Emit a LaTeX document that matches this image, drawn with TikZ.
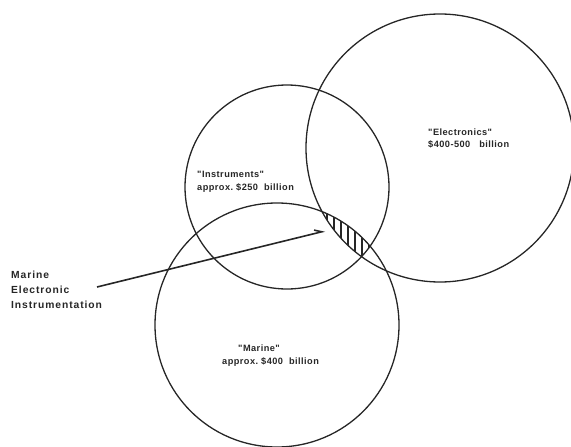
\documentclass[tikz,border=0pt]{standalone}
\usepackage{fontspec}
\setmainfont{Liberation Sans}
\newfontfamily\labfont[LetterSpace=9]{Liberation Sans}
\newfontfamily\txtfont[LetterSpace=5]{Liberation Sans}
\usetikzlibrary{arrows.meta}
\begin{document}
\begin{tikzpicture}[x=1pt,y=-1pt,
  circ/.style={line width=1.3pt, black!85},
  lbl/.style={font=\labfont\bfseries\fontsize{10.3}{15}\selectfont, align=left, inner sep=0pt, anchor=west, text=black!85},
  txt/.style={font=\txtfont\bfseries\fontsize{9.2}{12.5}\selectfont, align=left, inner sep=0pt, anchor=west, text=black!85},
  hatch/.style={line width=1.2pt, black!85},
  pointer/.style={line width=1.6pt, black!85, -{Straight Barb[left,length=7pt,width=7pt]}}]
\useasboundingbox (0,0) rectangle (571,447);
\coordinate (cI) at (287,187);
\coordinate (cE) at (440,148);
\coordinate (cM) at (277,325);
% circles
\draw[circ] (cI) circle (102);
\draw[circ] (cE) circle (134);
\draw[circ] (cM) circle (122);
% hatched triple intersection
\begin{scope}
  \clip (cI) circle (102);
  \clip (cE) circle (134);
  \clip (cM) circle (122);
  \foreach \x in {327,334,...,369} \draw[hatch] (\x,200) -- (\x,270);
\end{scope}
% texts
\node[txt] (tI) at (197,182) {"Instruments"\\approx.\ \$250\ \ billion};
\node[txt] (tE) at (428,138.5) {"Electronics"\\\$400-500\ \ \ billion};
\node[txt] (tM1) at (238,348) {"Marine"};
\node[txt] (tM2) at (222,362) {approx.\ \$400\ \ billion};
\node[lbl] (lab) at (11,290) {Marine\\Electronic\\Instrumentation};
% arrow
\coordinate (astart) at (97,287);
\coordinate (atip) at (325,231);
\draw[pointer] (astart) -- (atip);
\end{tikzpicture}
\end{document}
